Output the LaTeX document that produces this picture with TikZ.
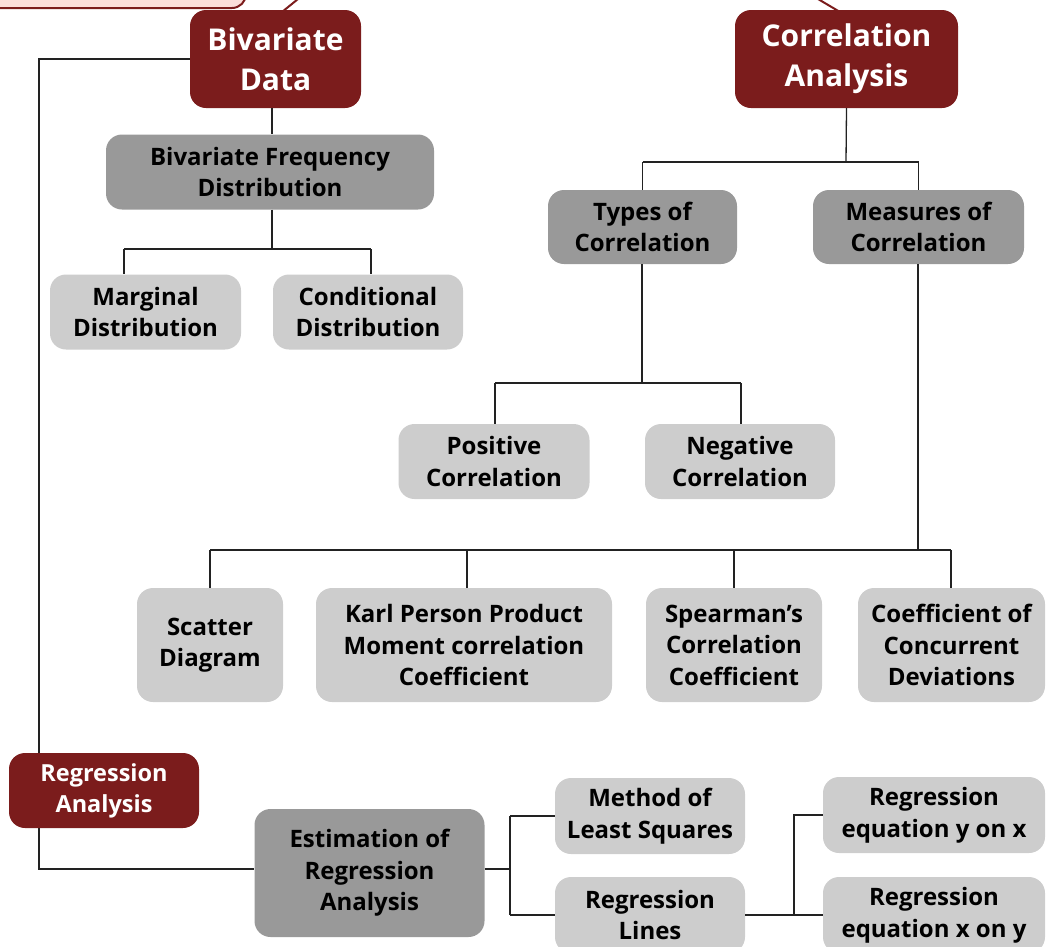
\documentclass[tikz,border=0pt]{standalone}
\usepackage{fontspec}
\setmainfont{Open Sans}
\definecolor{myred}{HTML}{7B1C1C}
\definecolor{mypink}{HTML}{FBDEDA}
\definecolor{mydgray}{HTML}{999999}
\definecolor{mylgray}{HTML}{CDCDCD}
\definecolor{linec}{HTML}{222222}
\begin{document}
\begin{tikzpicture}[x=1pt,y=-1pt,
  box/.style={rounded corners=16pt, align=center, inner sep=0pt, text=black,
    font=\bfseries\fontsize{24}{31.5}\selectfont},
  redbox/.style={box, fill=myred, text=white, font=\bfseries\fontsize{30}{40}\selectfont},
  redsmall/.style={box, fill=myred, text=white, font=\bfseries\fontsize{23.5}{31}\selectfont},
  dbox/.style={box, fill=mydgray},
  lbox/.style={box, fill=mylgray},
  conn/.style={draw=linec, line width=1.3pt},
  topline/.style={draw=myred, line width=2pt}]
\useasboundingbox (0,0) rectangle (1048,946);

% top-left partial box
\draw[fill=mypink, draw=myred, line width=2pt, rounded corners=14pt] (-20,-40) rectangle (246,8);
\coordinate (tpa) at (298,-1);
\coordinate (tpb) at (282,12);
\coordinate (tpc) at (818,-1);
\coordinate (tpd) at (840,12);
\draw[topline] (tpa) -- (tpb);
\draw[topline] (tpc) -- (tpd);

% coordinates for connector joints
\coordinate (c1) at (39,869);
\coordinate (j1) at (272,249);
\coordinate (k1) at (846,162);
\coordinate (t1) at (642,383);
\coordinate (m1) at (918,550);
\coordinate (b1) at (510,869);
\coordinate (b2) at (794,914);

% nodes
\node[redbox, minimum width=171pt, minimum height=98pt] (bd) at (275.5,59) {Bivariate\\Data};
\node[redbox, minimum width=223pt, minimum height=98pt] (ca) at (846.5,59) {Correlation\\Analysis};
\node[dbox, minimum width=328pt, minimum height=75pt] (bfd) at (270,172) {Bivariate Frequency\\Distribution};
\node[lbox, minimum width=191pt, minimum height=75pt] (marg) at (145.5,312) {Marginal\\Distribution};
\node[lbox, minimum width=190pt, minimum height=75pt] (cond) at (368,312) {Conditional\\Distribution};
\node[dbox, minimum width=189pt, minimum height=74pt] (toc) at (642.5,227) {Types of\\Correlation};
\node[dbox, minimum width=211pt, minimum height=74pt] (moc) at (918.5,227) {Measures of\\Correlation};
\node[lbox, minimum width=191pt, minimum height=75pt] (pos) at (494,461.5) {Positive\\Correlation};
\node[lbox, minimum width=190pt, minimum height=75pt] (neg) at (740,461.5) {Negative\\Correlation};
\node[lbox, minimum width=146pt, minimum height=114pt] (sc) at (210,645) {Scatter\\Diagram};
\node[lbox, minimum width=296pt, minimum height=114pt] (kp) at (464,645) {Karl Person Product\\Moment correlation\\Coefficient};
\node[lbox, minimum width=176pt, minimum height=114pt] (sp) at (734,645) {Spearman’s\\Correlation\\Coefficient};
\node[lbox, minimum width=187pt, minimum height=114pt] (ccd) at (951.5,645) {Coefficient of\\Concurrent\\Deviations};
\node[dbox, minimum width=230pt, minimum height=128pt] (est) at (369.5,873) {Estimation of\\Regression\\Analysis};
\node[lbox, minimum width=190pt, minimum height=76pt] (mls) at (650,816) {Method of\\Least Squares};
\node[lbox, minimum width=190pt, minimum height=76pt] (rl) at (650,915) {Regression\\Lines};
\node[lbox, minimum width=222pt, minimum height=76pt] (ryx) at (934,815) {Regression\\equation y on x};
\node[lbox, minimum width=222pt, minimum height=76pt] (rxy) at (934,915) {Regression\\equation x on y};

% connectors
\draw[conn] (bd.west) -| (c1) -- (c1 -| est.west);
\draw[conn] (bd.south -| j1) -- (bfd.north -| j1);
\draw[conn] (bfd.south -| j1) -- (j1);
\draw[conn] (124,249) -- (371,249);
\draw[conn] (124,249) -- (124,274);
\draw[conn] (371,249) -- (371,274);
\draw[conn] (ca.south) -- (k1);
\draw[conn] (toc.north |- k1) -- (moc.north |- k1);
\draw[conn] (toc.north |- k1) -- (toc.north);
\draw[conn] (moc.north |- k1) -- (moc.north);
\draw[conn] (toc.south -| t1) -- (t1);
\draw[conn] (495,383) -- (741,383);
\draw[conn] (495,383) -- (495,424);
\draw[conn] (741,383) -- (741,424);
\draw[conn] (moc.south -| m1) -- (m1);
\draw[conn] (sc.north |- m1) -- (951,550);
\draw[conn] (sc.north |- m1) -- (sc.north);
\draw[conn] (467,550) -- (467,588);
\draw[conn] (sp.north |- m1) -- (sp.north);
\draw[conn] (951,550) -- (951,588);
\draw[conn] (est.east |- b1) -- (b1);
\draw[conn] (b1 |- mls.west) -- (b1 |- rl.west);
\draw[conn] (b1 |- mls.west) -- (mls.west);
\draw[conn] (b1 |- rl.west) -- (rl.west);
\draw[conn] (rl.east) -- (rxy.west);
\draw[conn] (b2) -- (b2 |- ryx.west) -- (ryx.west);

% regression analysis drawn over the long connector
\node[redsmall, minimum width=190pt, minimum height=75pt] (ra) at (104,790.5) {Regression\\Analysis};
\end{tikzpicture}
\end{document}
